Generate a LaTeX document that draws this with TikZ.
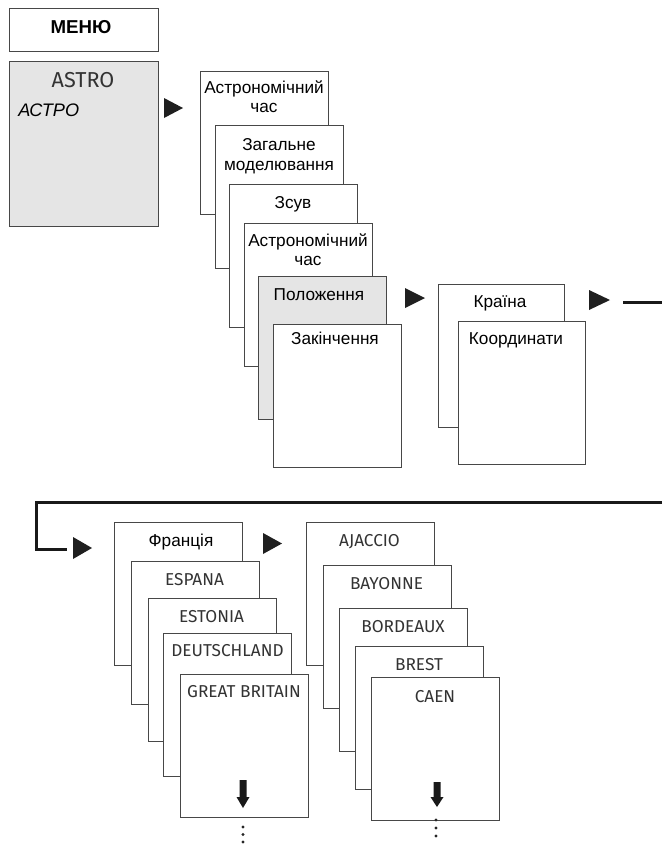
\documentclass[tikz,border=0pt]{standalone}
\usepackage{fontspec}
\setmainfont{Liberation Sans}
\newfontfamily\din{Fira Sans}
\begin{document}
\begin{tikzpicture}[x=0.75pt,y=-0.75pt,
  card/.style={draw=black!72, line width=0.75pt, fill=white, minimum width=96pt,
    minimum height=107.25pt, anchor=north west, inner sep=0pt, outer sep=0pt},
  graycard/.style={card, fill=black!10},
  cyr/.style={font=\fontsize{12.9}{15}\selectfont, text=black, inner sep=0pt, anchor=base},
  lat/.style={font=\din\fontsize{12.9}{15}\selectfont, text=black!80, inner sep=0pt, anchor=base},
  tri/.style={fill=black!88},
  conn/.style={line width=2.25pt, black!90},
  dnarrow/.style={fill=black!90},
  dotmark/.style={fill=black!85}]
\useasboundingbox (0,0) rectangle (662,846);

% menu / astro
\node[draw=black!72, line width=0.75pt, minimum width=111.75pt, minimum height=32.25pt,
  anchor=north west, inner sep=0pt] (menu) at (9,8) {};
\node[font=\bfseries\fontsize{14}{16}\selectfont, inner sep=0pt, anchor=base] (menut) at (81,33) {МЕНЮ};
\node[draw=black!72, fill=black!10, line width=0.75pt, minimum width=111.75pt, minimum height=123.75pt,
  anchor=north west, inner sep=0pt] (astro) at (9,61) {};
\node[lat, font=\din\fontsize{16.2}{18}\selectfont] (astrot) at (83,87.3) {ASTRO};
\node[cyr, anchor=base west, font=\itshape\fontsize{13.6}{15}\selectfont] (astroc) at (18,116) {АСТРО};
\fill[tri] (164,98) -- (183,108) -- (164,118) -- cycle;

% first stack
\node[card] (b1) at (200,71) {};
\node[cyr] (b1a) at (264,93) {Астрономічний};
\node[cyr] (b1b) at (264,112) {час};
\node[card] (b2) at (215,125) {};
\node[cyr] (b2a) at (279,150) {Загальне};
\node[cyr] (b2b) at (279,170) {моделювання};
\node[card] (b3) at (229,184) {};
\node[cyr] (b3a) at (293,208) {Зсув};
\node[card] (b4) at (244,223) {};
\node[cyr] (b4a) at (308,246.7) {Астрономічний};
\node[cyr] (b4b) at (308,265.7) {час};
\node[graycard] (b5) at (258,276) {};
\node[cyr] (b5a) at (319,300.7) {Положення};
\node[card] (b6) at (273,324) {};
\node[cyr] (b6a) at (335,344) {Закінчення};
\fill[tri] (405,288) -- (425,298) -- (405,308) -- cycle;

% second stack
\node[card, minimum width=94.5pt] (k1) at (438,284) {};
\node[cyr] (k1a) at (500,307.3) {Країна};
\node[card, minimum width=95.25pt] (k2) at (458,321) {};
\node[cyr] (k2a) at (516,344) {Координати};
\fill[tri] (589,290) -- (610,300) -- (589,310) -- cycle;

% connector
\coordinate (ca) at (623,302);
\coordinate (cb) at (662,302);
\draw[conn] (ca) -- (cb);
\coordinate (cc) at (662,502);
\coordinate (cd) at (36,502);
\coordinate (ce) at (36,549);
\coordinate (cf) at (67,549);
\draw[conn, line cap=butt, line join=miter] (cc) -- (cd) -- (ce) -- (cf);
\fill[tri] (73,537) -- (92,548) -- (73,559) -- cycle;

% countries
\node[card] (c1) at (114,522) {};
\node[cyr] (c1a) at (181,546) {Франція};
\node[card] (c2) at (131,561) {};
\node[lat] (c2a) at (194.5,585) {ESPANA};
\node[card] (c3) at (148,598) {};
\node[lat] (c3a) at (211.5,622.7) {ESTONIA};
\node[card] (c4) at (163,633) {};
\node[lat] (c4a) at (227.5,656.7) {DEUTSCHLAND};
\node[card] (c5) at (180,674) {};
\node[lat] (c5a) at (244,697.3) {GREAT BRITAIN};
\coordinate (ga) at (243,780);
\fill[dnarrow] (ga) ++(-3.5,0) -- ++(7,0) -- ++(0,17) -- ++(3,0) -- ++(-6.5,11) -- ++(-6.5,-11) -- ++(3,0) -- cycle;
\foreach \yy in {827,834.5,842} \fill[dotmark] (243,\yy) circle (1.6);
\fill[tri] (263,533) -- (282,543.5) -- (263,554) -- cycle;

% cities
\node[card] (d1) at (306,522) {};
\node[lat] (d1a) at (369.5,546) {AJACCIO};
\node[card] (d2) at (323,565) {};
\node[lat] (d2a) at (386.5,589) {BAYONNE};
\node[card] (d3) at (339,608) {};
\node[lat] (d3a) at (403,632.7) {BORDEAUX};
\node[card] (d4) at (355,646) {};
\node[lat] (d4a) at (419,670) {BREST};
\node[card] (d5) at (371,677) {};
\node[lat] (d5a) at (435,702.7) {CAEN};
\coordinate (gb) at (437,782);
\fill[dnarrow] (gb) ++(-3.5,0) -- ++(7,0) -- ++(0,15) -- ++(3,0) -- ++(-6.5,10) -- ++(-6.5,-10) -- ++(3,0) -- cycle;
\foreach \yy in {820,828,836} \fill[dotmark] (436,\yy) circle (1.6);
\end{tikzpicture}
\end{document}
